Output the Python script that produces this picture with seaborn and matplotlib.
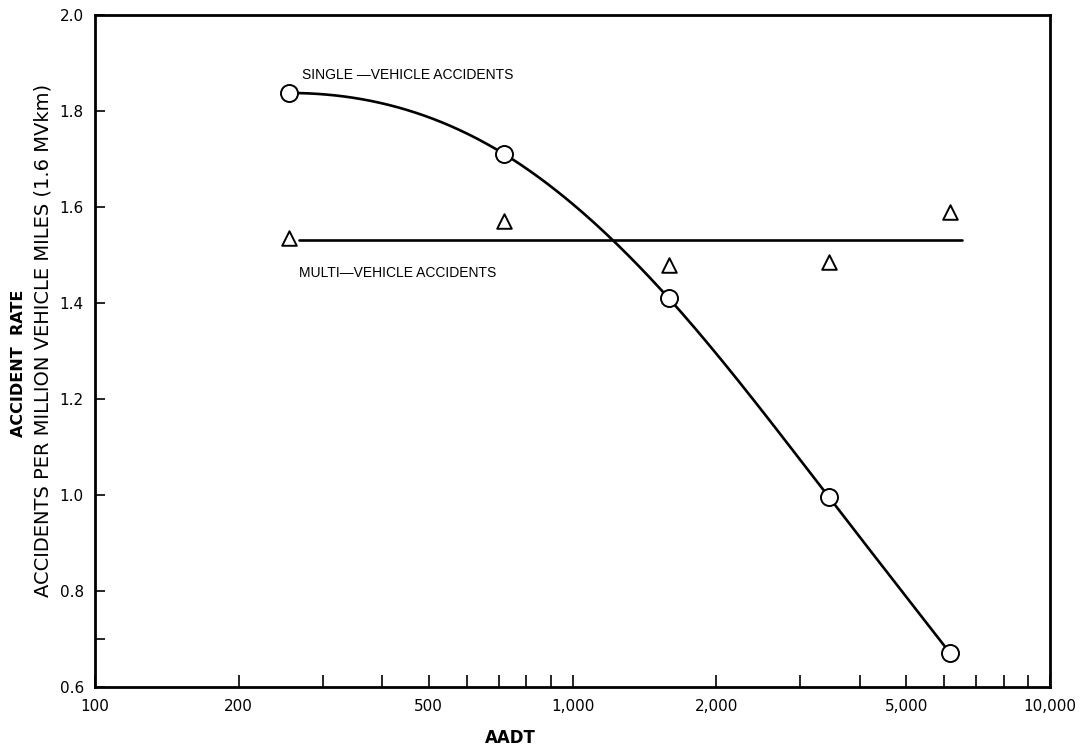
import numpy as np
import pandas as pd
import matplotlib
matplotlib.use("Agg")
import matplotlib.pyplot as plt
import matplotlib.ticker as mticker
import seaborn as sns

# Annual average daily traffic groups and accident rates (per million vehicle miles)
aadt = [255, 720, 1590, 3440, 6170]
single_vehicle = [1.8375, 1.71, 1.41, 0.996, 0.671]
multi_vehicle = [1.535, 1.571, 1.479, 1.485, 1.590]

x_major = [100, 200, 500, 1000, 2000, 5000, 10000]
x_major_labels = ["100", "200", "500", "1,000", "2,000", "5,000", "10,000"]
y_major = [0.6, 0.8, 1.0, 1.2, 1.4, 1.6, 1.8, 2.0]
y_major_labels = ["0.6", "0.8", "1.0", "1.2", "1.4", "1.6", "1.8", "2.0"]


def smooth_curve(x, y, n=300, start_slope=0.0):
    """Cubic spline in log10(x): fixed slope at the left end, natural at the right."""
    u = np.log10(np.asarray(x, float))
    y = np.asarray(y, float)
    k = len(u)
    h = np.diff(u)
    A = np.zeros((k, k))
    b = np.zeros(k)
    A[0, 0], A[0, 1] = 2 * h[0], h[0]
    b[0] = 6 * ((y[1] - y[0]) / h[0] - start_slope)
    for i in range(1, k - 1):
        A[i, i - 1] = h[i - 1]
        A[i, i] = 2 * (h[i - 1] + h[i])
        A[i, i + 1] = h[i]
        b[i] = 6 * ((y[i + 1] - y[i]) / h[i] - (y[i] - y[i - 1]) / h[i - 1])
    A[-1, -1] = 1.0
    M = np.linalg.solve(A, b)
    t = np.linspace(u[0], u[-1], n)
    idx = np.clip(np.searchsorted(u, t) - 1, 0, k - 2)
    ui, uj, hi = u[idx], u[idx + 1], h[idx]
    s = (M[idx] * (uj - t) ** 3 / (6 * hi) + M[idx + 1] * (t - ui) ** 3 / (6 * hi)
         + (y[idx] / hi - M[idx] * hi / 6) * (uj - t)
         + (y[idx + 1] / hi - M[idx + 1] * hi / 6) * (t - ui))
    return 10 ** t, s


sns.set_theme(style="ticks")
plt.rcParams["font.family"] = ["DejaVu Sans"]
plt.rcParams["text.color"] = "black"
plt.rcParams["axes.labelcolor"] = "black"

fig = plt.figure(figsize=(10.87, 7.49), dpi=100)
ax = fig.add_axes([0.0874, 0.0828, 0.8786, 0.8972])
ax.set_xscale("log")

cx, cy = smooth_curve(aadt, single_vehicle)
curve = pd.DataFrame({"AADT": cx, "rate": cy})
sns.lineplot(data=curve, x="AADT", y="rate", ax=ax, color="black", lw=1.9,
             estimator=None, sort=False)

# Multi-vehicle rates are flat: draw their mean as a horizontal line
mean_multi = float(np.mean(multi_vehicle))
flat = pd.DataFrame({"AADT": [268, 6550], "rate": [mean_multi, mean_multi]})
sns.lineplot(data=flat, x="AADT", y="rate", ax=ax, color="black", lw=1.9,
             estimator=None)

pts = pd.DataFrame({"AADT": aadt, "single": single_vehicle, "multi": multi_vehicle})
sns.scatterplot(data=pts, x="AADT", y="single", ax=ax, marker="o", s=150,
                facecolor="white", edgecolor="black", linewidth=1.4, zorder=5)
sns.scatterplot(data=pts, x="AADT", y="multi", ax=ax, marker="^", s=110,
                facecolor="white", edgecolor="black", linewidth=1.4, zorder=5)

ax.set_xlim(100, 10000)
ax.set_ylim(0.6, 2.0)

ax.xaxis.set_major_locator(mticker.FixedLocator(x_major))
ax.xaxis.set_major_formatter(mticker.FixedFormatter(x_major_labels))
minor_x = [m * d for d in (100, 1000) for m in range(2, 10) if m * d not in x_major]
ax.xaxis.set_minor_locator(mticker.FixedLocator(minor_x))
ax.xaxis.set_minor_formatter(mticker.NullFormatter())
ax.yaxis.set_major_locator(mticker.FixedLocator(y_major))
ax.yaxis.set_major_formatter(mticker.FixedFormatter(y_major_labels))
ax.yaxis.set_minor_locator(mticker.FixedLocator([0.7]))
ax.yaxis.set_minor_formatter(mticker.NullFormatter())

ax.tick_params(axis="both", which="both", direction="in", width=1.2,
               color="black", labelsize=11, labelcolor="black")
ax.tick_params(axis="x", which="both", length=8.5)
ax.tick_params(axis="y", which="both", length=7.5)
ax.tick_params(axis="x", which="major", pad=9)
ax.tick_params(axis="y", which="major", pad=8)

for side in ["left", "right", "top", "bottom"]:
    ax.spines[side].set_visible(True)
    ax.spines[side].set_linewidth(2.0)
    ax.spines[side].set_color("black")

ax.set_xlabel("AADT", fontsize=12, fontweight="bold", color="black")
ax.xaxis.set_label_coords(0.435, -0.062)
ax.set_ylabel("")

fig.text(0.017, 0.515, "ACCIDENT  RATE", rotation=90, ha="center", va="center",
         fontsize=11.5, fontweight="bold", color="black")
fig.text(0.040, 0.545, "ACCIDENTS PER MILLION VEHICLE MILES (1.6 MVkm)",
         rotation=90, ha="center", va="center", fontsize=14, color="black")

ax.text(271, 1.875, "SINGLE \u2014VEHICLE ACCIDENTS", fontsize=10, ha="left",
        va="center", color="black", family=["Liberation Sans", "DejaVu Sans"])
ax.text(268, 1.4625, "MULTI\u2014VEHICLE ACCIDENTS", fontsize=10, ha="left",
        va="center", color="black", family=["Liberation Sans", "DejaVu Sans"])

ax.grid(False)
fig.savefig("out.png", dpi=100)
